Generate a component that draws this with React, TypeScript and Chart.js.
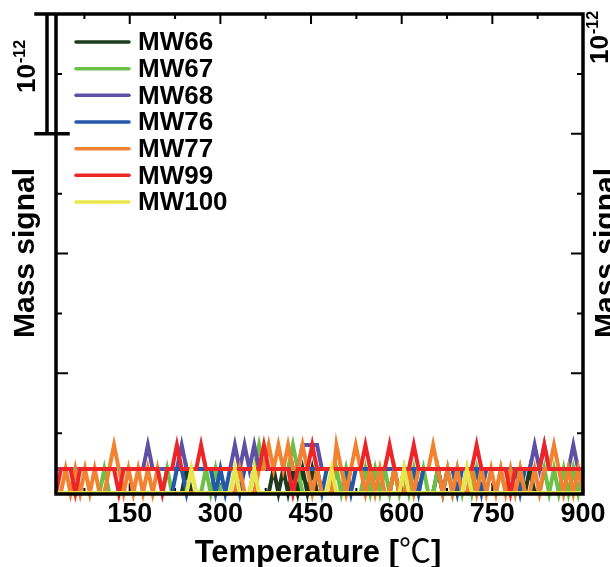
import { useEffect, useRef } from 'react';
import { Chart, registerables } from 'chart.js';

Chart.register(...registerables);

// Temperature sampling grid [°C]
const temps = [
  28, 36, 44, 52, 60, 68, 76, 84, 92, 100,
  108, 116, 124, 132, 140, 148, 156, 164, 172, 180,
  188, 196, 204, 212, 220, 228, 236, 244, 252, 260,
  268, 276, 284, 292, 300, 308, 316, 324, 332, 340,
  348, 356, 364, 372, 380, 388, 396, 404, 412, 420,
  428, 436, 444, 452, 460, 468, 476, 484, 492, 500,
  508, 516, 524, 532, 540, 548, 556, 564, 572, 580,
  588, 596, 604, 612, 620, 628, 636, 644, 652, 660,
  668, 676, 684, 692, 700, 708, 716, 724, 732, 740,
  748, 756, 764, 772, 780, 788, 796, 804, 812, 820,
  828, 836, 844, 852, 860, 868, 876, 884, 892, 900,
];

// Mass signal in units of 1e-13
const mw66 = [
  0, 0, 0, 0, 0, 0, 0, 0, 0, 0,
  0, 0, 0, 0, 0, 0, 0, 0, 0, 0,
  0, 0, 0, 0, 0, 0, 0, 2, 0, 0,
  0, 0, 0, 0, 0, 0, 0, 0, 0, 0,
  0, 0, 0, 0, 0, 2, 0, 2, 0, 2,
  0, 2, 0, 2, 0, 0, 0, 0, 0, 0,
  0, 0, 0, 0, 0, 2, 0, 0, 0, 0,
  2, 0, 0, 0, 0, 0, 0, 0, 0, 2,
  0, 0, 0, 0, 0, 0, 0, 0, 0, 0,
  0, 0, 0, 0, 0, 0, 0, 0, 2, 0,
  0, 0, 0, 0, 0, 0, 0, 0, 0, 0,
];
const mw67 = [
  0, 0, 0, 0, 0, 0, 0, 0, 0, 0,
  2, 0, 0, 0, 0, 0, 0, 0, 0, 0,
  0, 0, 0, 2, 0, 0, 0, 0, 0, 0,
  0, 2, 0, 2, 0, 0, 0, 0, 0, 0,
  0, 2, 4, 2, 2, 2, 2, 2, 2, 4,
  2, 0, 0, 0, 0, 0, 0, 0, 2, 0,
  2, 0, 0, 0, 2, 0, 2, 0, 2, 0,
  2, 0, 2, 0, 2, 0, 2, 0, 0, 2,
  0, 2, 0, 2, 0, 2, 0, 2, 0, 0,
  0, 0, 2, 0, 0, 0, 2, 0, 0, 0,
  0, 2, 0, 2, 0, 2, 0, 2, 0, 2,
];
const mw68 = [
  2, 2, 2, 2, 2, 2, 2, 2, 2, 2,
  2, 2, 2, 2, 2, 2, 2, 2, 2, 4,
  2, 2, 2, 2, 2, 2, 4, 2, 2, 2,
  2, 2, 2, 2, 2, 2, 2, 4, 2, 4,
  2, 4, 2, 2, 2, 2, 2, 2, 2, 2,
  2, 4, 4, 4, 4, 2, 2, 2, 2, 2,
  2, 2, 2, 2, 2, 2, 2, 2, 2, 2,
  2, 2, 2, 2, 2, 2, 2, 2, 2, 2,
  2, 2, 2, 2, 2, 2, 2, 2, 2, 2,
  2, 2, 2, 2, 2, 2, 2, 2, 2, 4,
  2, 4, 2, 2, 2, 2, 2, 4, 2, 2,
];
const mw76 = [
  0, 0, 0, 0, 0, 0, 0, 0, 0, 0,
  0, 0, 0, 0, 0, 0, 0, 0, 0, 0,
  0, 0, 0, 0, 0, 2, 2, 0, 2, 2,
  2, 2, 2, 0, 2, 0, 2, 2, 0, 2,
  2, 2, 2, 2, 2, 2, 2, 2, 2, 2,
  2, 2, 2, 2, 2, 0, 2, 2, 2, 2,
  2, 0, 2, 2, 2, 2, 2, 2, 2, 2,
  2, 2, 2, 2, 2, 0, 2, 2, 2, 2,
  0, 2, 2, 0, 2, 2, 2, 2, 0, 2,
  2, 2, 2, 2, 2, 2, 0, 2, 2, 2,
  2, 2, 2, 2, 2, 2, 2, 2, 2, 2,
];
const mw77 = [
  0, 0, 2, 0, 2, 0, 2, 0, 2, 0,
  0, 2, 4, 2, 0, 2, 0, 2, 0, 2,
  0, 2, 0, 0, 0, 0, 0, 0, 0, 0,
  0, 0, 0, 0, 0, 0, 0, 0, 2, 0,
  0, 0, 2, 2, 4, 2, 4, 2, 4, 2,
  2, 4, 2, 0, 2, 0, 0, 0, 4, 2,
  0, 2, 4, 2, 0, 2, 0, 2, 0, 0,
  2, 0, 0, 2, 0, 2, 2, 2, 4, 2,
  0, 2, 0, 2, 0, 0, 2, 0, 2, 0,
  2, 0, 2, 0, 2, 0, 2, 0, 0, 2,
  0, 2, 2, 4, 2, 0, 2, 0, 2, 0,
];
const mw99 = [
  0, 2, 2, 2, 0, 2, 2, 2, 2, 2,
  2, 2, 2, 0, 2, 2, 2, 2, 2, 2,
  2, 2, 0, 2, 2, 4, 2, 2, 2, 2,
  4, 2, 2, 2, 2, 2, 2, 2, 2, 2,
  2, 2, 2, 4, 2, 2, 2, 2, 2, 0,
  2, 2, 2, 4, 2, 2, 2, 2, 2, 2,
  2, 2, 2, 2, 4, 2, 2, 2, 2, 4,
  2, 2, 2, 2, 4, 2, 2, 2, 2, 2,
  2, 2, 2, 2, 2, 2, 2, 4, 2, 2,
  2, 2, 2, 2, 0, 2, 2, 2, 2, 2,
  2, 4, 2, 2, 2, 2, 2, 2, 2, 2,
];
const mw100 = [
  0, 0, 0, 0, 0, 0, 0, 0, 0, 0,
  0, 0, 0, 0, 0, 0, 0, 0, 0, 0,
  0, 0, 0, 0, 0, 0, 0, 0, 2, 0,
  0, 0, 0, 0, 0, 0, 0, 2, 0, 0,
  0, 2, 0, 0, 0, 0, 0, 0, 0, 0,
  0, 0, 0, 0, 0, 0, 0, 2, 0, 0,
  0, 0, 0, 0, 0, 0, 0, 0, 0, 0,
  0, 0, 2, 0, 0, 0, 0, 0, 0, 0,
  0, 0, 0, 0, 0, 2, 0, 0, 0, 0,
  0, 0, 0, 0, 0, 0, 0, 0, 0, 0,
  0, 0, 0, 0, 0, 0, 0, 0, 0, 0,
];

const seriesNames = ['MW66', 'MW67', 'MW68', 'MW76', 'MW77', 'MW99', 'MW100'];
const seriesValues = [mw66, mw67, mw68, mw76, mw77, mw99, mw100];
const seriesColors = ['#1c3b1d', '#6cbf47', '#5e50a5', '#2458a8', '#f2822f', '#ee2526', '#e8e84c'];

const xMajorTicks = [150, 300, 450, 600, 750, 900];
const xMinorTicks = [75, 225, 375, 525, 675, 825];
const yMajorTicks = [10, 20, 30];
const yMinorTicks = [5, 15, 25, 35];

const FONT = '"Liberation Sans", Arial, "Noto Sans CJK JP", sans-serif';

const framePlugin = {
  id: 'frame',
  beforeDatasetsDraw(chart: any) {
    const { ctx, chartArea } = chart;
    const { left, right, top, bottom } = chartArea;
    const xs = chart.scales.x;
    const ys = chart.scales.y;
    ctx.save();
    ctx.strokeStyle = '#000';
    ctx.lineWidth = 2;
    ctx.beginPath();
    for (const v of yMajorTicks) {
      const p = ys.getPixelForValue(v);
      ctx.moveTo(left, p); ctx.lineTo(left + 12, p);
      ctx.moveTo(right, p); ctx.lineTo(right - 12, p);
    }
    for (const v of yMinorTicks) {
      const p = ys.getPixelForValue(v);
      ctx.moveTo(left, p); ctx.lineTo(left + 6, p);
      ctx.moveTo(right, p); ctx.lineTo(right - 6, p);
    }
    for (const v of xMajorTicks) {
      const p = xs.getPixelForValue(v);
      if (p >= right - 1) continue;
      ctx.moveTo(p, top); ctx.lineTo(p, top + 10);
      ctx.moveTo(p, bottom); ctx.lineTo(p, bottom - 10);
    }
    for (const v of xMinorTicks) {
      const p = xs.getPixelForValue(v);
      ctx.moveTo(p, top); ctx.lineTo(p, top + 5);
      ctx.moveTo(p, bottom); ctx.lineTo(p, bottom - 5);
    }
    ctx.stroke();
    ctx.restore();
  },
  afterDatasetsDraw(chart: any) {
    const { ctx, chartArea } = chart;
    const { left, right, top, bottom } = chartArea;
    const ys = chart.scales.y;
    ctx.save();
    ctx.strokeStyle = '#000';
    ctx.lineWidth = 3.5;
    ctx.lineCap = 'square';
    ctx.beginPath();
    // frame
    ctx.moveTo(left, top); ctx.lineTo(left, bottom + 1);
    ctx.moveTo(right, top); ctx.lineTo(right, bottom + 1);
    ctx.moveTo(left, bottom + 1); ctx.lineTo(right, bottom + 1);
    ctx.moveTo(36, top); ctx.lineTo(right, top);
    // scale bar (1e-12 = 10 units)
    const pBar = ys.getPixelForValue(30);
    ctx.moveTo(47, top); ctx.lineTo(47, pBar);
    ctx.moveTo(36, pBar); ctx.lineTo(left + 12, pBar);
    ctx.stroke();

    ctx.fillStyle = '#000';
    // y titles
    ctx.font = `bold 30px ${FONT}`;
    ctx.textAlign = 'center';
    ctx.textBaseline = 'alphabetic';
    ctx.save();
    ctx.translate(34, 253);
    ctx.rotate(-Math.PI / 2);
    ctx.fillText('Mass signal', 0, 0);
    ctx.restore();
    ctx.save();
    ctx.translate(615, 253);
    ctx.rotate(-Math.PI / 2);
    ctx.fillText('Mass signal', 0, 0);
    ctx.restore();

    // 10^-12 labels
    const drawPow = (bx: number, by: number) => {
      ctx.save();
      ctx.translate(bx, by);
      ctx.rotate(-Math.PI / 2);
      ctx.textAlign = 'left';
      ctx.font = `bold 26px ${FONT}`;
      ctx.fillText('10', 0, 0);
      const w = ctx.measureText('10').width;
      ctx.font = `bold 16px ${FONT}`;
      ctx.fillText('-12', w + 1, -10);
      ctx.restore();
    };
    drawPow(35, 93);
    drawPow(608, 64);

    // x title
    ctx.font = `bold 31px ${FONT}`;
    ctx.textAlign = 'left';
    const t1 = 'Temperature [';
    const w1 = ctx.measureText(t1).width;
    ctx.font = `32px "Noto Sans CJK JP", ${FONT}`;
    const w2 = ctx.measureText('\u2103').width;
    ctx.font = `bold 31px ${FONT}`;
    const w3 = ctx.measureText(']').width;
    let sx = 318 - (w1 + w2 + w3) / 2;
    ctx.fillText(t1, sx, 562);
    sx += w1;
    ctx.font = `32px "Noto Sans CJK JP", ${FONT}`;
    ctx.fillText('\u2103', sx, 562);
    sx += w2;
    ctx.font = `bold 31px ${FONT}`;
    ctx.fillText(']', sx, 562);

    // legend
    ctx.textAlign = 'left';
    ctx.textBaseline = 'middle';
    ctx.font = `bold 26px ${FONT}`;
    seriesNames.forEach((name, i) => {
      const yy = 42 + i * 26.67;
      ctx.strokeStyle = seriesColors[i];
      ctx.lineWidth = 3.5;
      ctx.lineCap = 'round';
      ctx.beginPath();
      ctx.moveTo(76, yy); ctx.lineTo(129, yy);
      ctx.stroke();
      ctx.fillStyle = '#000';
      ctx.fillText(name, 138, yy + 1);
    });
    ctx.restore();
  },
};

export default function App() {
  const ref = useRef<HTMLCanvasElement | null>(null);
  useEffect(() => {
    if (!ref.current) return;
    const datasets = seriesNames.map((name, i) => ({
      label: name,
      data: temps.map((t, j) => ({ x: t, y: seriesValues[i][j] })),
      borderColor: seriesColors[i],
      backgroundColor: seriesColors[i],
      borderWidth: 4,
      pointRadius: 0,
      tension: 0,
      fill: false,
      clip: false as any,
      order: seriesNames.length - i,
    }));
    const chart = new Chart(ref.current, {
      type: 'line',
      data: { datasets },
      plugins: [framePlugin],
      options: {
        responsive: false,
        animation: false,
        devicePixelRatio: 1,
        layout: { padding: { left: 56, right: 27, top: 14, bottom: 29 } },
        plugins: { legend: { display: false }, tooltip: { enabled: false } },
        scales: {
          x: {
            type: 'linear',
            min: 28,
            max: 900,
            grid: { display: false },
            border: { display: false },
            afterBuildTicks: (s: any) => {
              s.ticks = xMajorTicks.map((v) => ({ value: v }));
            },
            afterFit: (s: any) => { s.height = 45; },
            ticks: {
              color: '#000',
              padding: -3,
              maxRotation: 0,
              autoSkip: false,
              font: { family: FONT, size: 27, weight: 'bold' },
              callback: (v: any) => String(v),
            },
          },
          y: {
            type: 'linear',
            display: false,
            min: 0,
            max: 40,
          },
        },
      },
    });
    return () => chart.destroy();
  }, []);
  return (
    <div style={{ position: 'absolute', left: 0, top: 0, width: 610, height: 567, background: '#fff' }}>
      <canvas ref={ref} width={610} height={567} style={{ display: 'block' }} />
    </div>
  );
}
